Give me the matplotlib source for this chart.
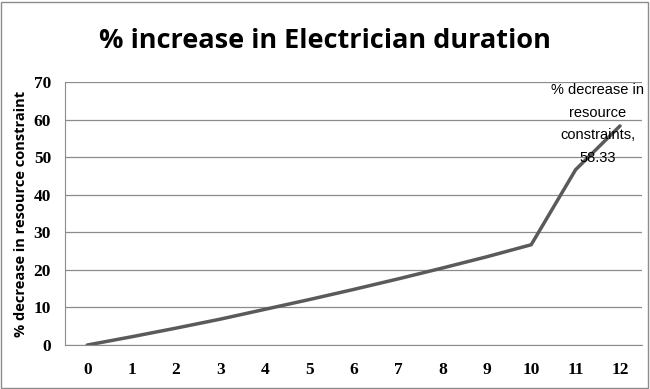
import matplotlib
matplotlib.use("Agg")
import matplotlib.pyplot as plt
from matplotlib.patches import Rectangle

# data
categories = list(range(13))
values = [0, 2.2, 4.5, 6.9, 9.5, 12.1, 14.8, 17.6, 20.5, 23.5, 26.7, 46.67, 58.33]
label_text = "% decrease in\nresource\nconstraints,\n58.33"

fig = plt.figure(figsize=(6.5, 3.89), dpi=100)
ax = fig.add_axes([0.1, 0.113, 0.888, 0.676])

ax.plot(range(len(categories)), values, color="#5a5a5a", linewidth=2.5, solid_capstyle="round")

ax.set_xlim(-0.5, len(categories) - 0.5)
ax.set_ylim(0, 70)
ax.set_yticks(range(0, 71, 10))
ax.set_xticks(range(len(categories)))
ax.set_xticklabels([str(c) for c in categories])
ax.grid(axis="y", color="#8c8c8c", linewidth=0.9)
ax.set_axisbelow(True)
for s in ["top", "right"]:
    ax.spines[s].set_visible(False)
ax.spines["left"].set_color("#8c8c8c")
ax.spines["bottom"].set_color("#8c8c8c")
ax.tick_params(axis="x", length=0, pad=12, labelsize=12.5)
ax.tick_params(axis="y", length=0, pad=10, labelsize=12.5)
for lab in ax.get_xticklabels() + ax.get_yticklabels():
    lab.set_family("Liberation Serif")
    lab.set_fontweight("bold")

ax.set_ylabel("% decrease in resource constraint", fontsize=10.5, fontweight="bold",
              family="Open Sans", labelpad=4)

fig.text(0.5, 0.895, "% increase in Electrician duration", ha="center", va="center",
         fontsize=19.5, fontweight="bold", family="Open Sans")

ax.annotate(label_text, xy=(12, values[-1]), xytext=(11.5, 69.8), ha="center", va="top",
            fontsize=10.5, family="Liberation Sans", linespacing=1.8)

fig.patches.append(Rectangle((0.002, 0.003), 0.995, 0.993, transform=fig.transFigure,
                             fill=False, edgecolor="#8c8c8c", linewidth=1))

fig.savefig("out.png", dpi=100)
